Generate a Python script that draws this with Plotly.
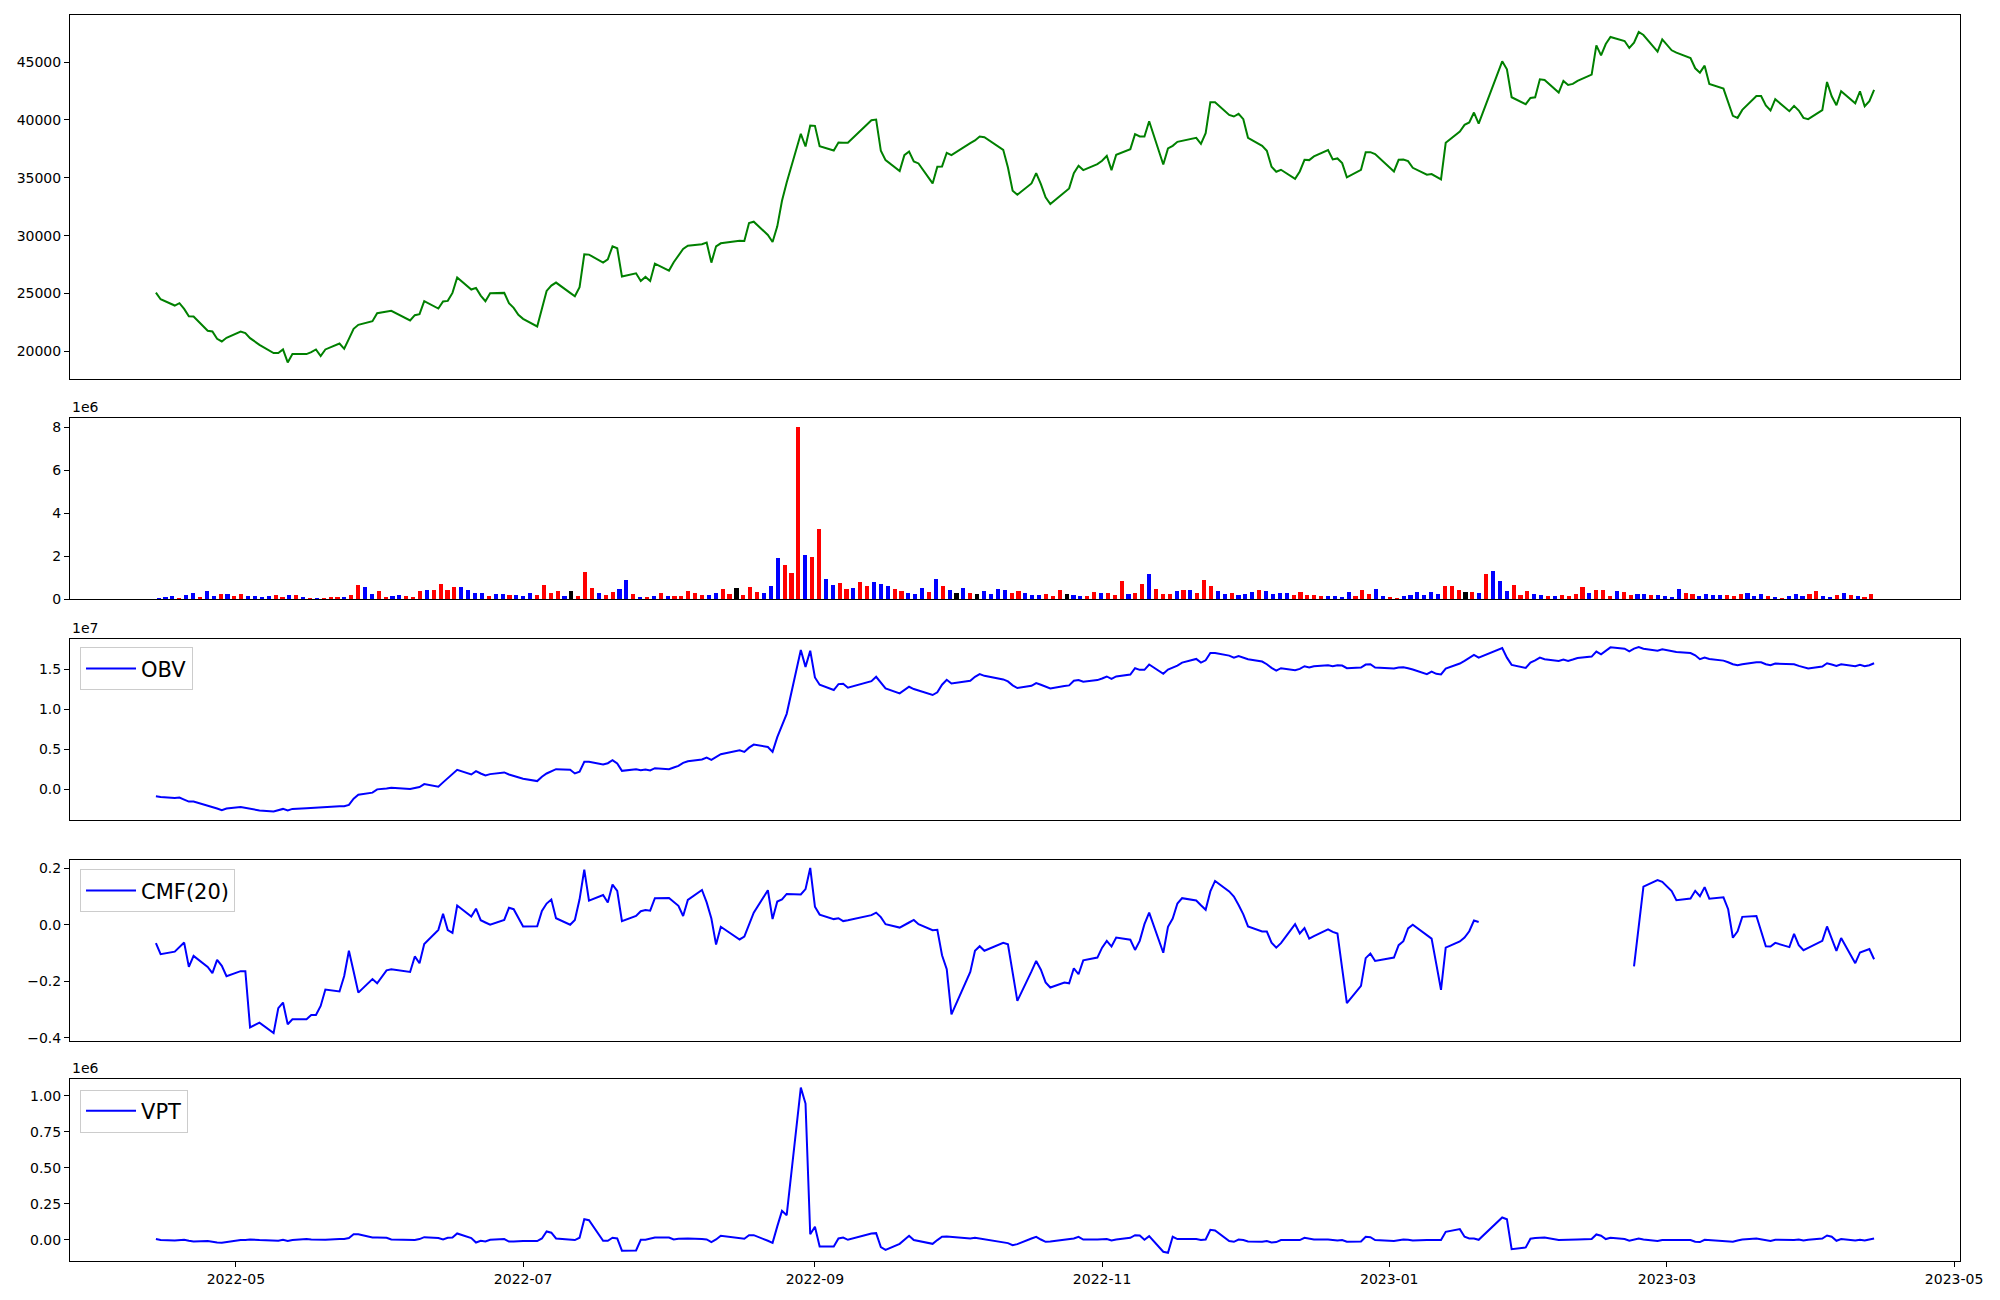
import pandas as pd
import plotly.graph_objects as go

# ---------------- data ----------------
# KRX closed days inside the range (trading calendar = weekdays minus these)
holidays = ["2022-05-05", "2022-06-01", "2022-06-06", "2022-08-15", "2022-09-09",
            "2022-09-12", "2022-10-03", "2022-10-10", "2022-12-30", "2023-01-23",
            "2023-01-24", "2023-03-01"]

close = [
    25079, 24504, 23957, 24158, 23670, 23037, 23008, 21771, 21714, 21080, 20850, 21166,
    21714, 21570, 21139, 20563, 19843, 19843, 20160, 19037, 19757, 19757, 19930, 20160,
    19585, 20160, 20677, 20217, 21080, 21944, 22289, 22605, 23296,
    23440, 23497, 22663, 23123, 23209, 24331, 23698, 24302, 24360, 25050, 26374, 25338,
    25482, 24820, 24331, 25022, 25050, 24158, 23755, 23151,
    22806, 22145, 23670, 25223, 25683, 25942, 25050, 24762, 25539, 28388, 28359, 27669,
    27956, 29078, 28905, 26460, 26747, 26085, 26431, 26085, 27582,
    26978, 27698, 28273, 28848, 29136, 29251, 29395, 27669, 29078, 29338, 29567, 29539,
    31092, 31207, 30056, 29452, 30805, 33020, 34602, 38802, 37709, 39521,
    39493, 37738, 37364, 38054, 38026, 38026, 39982, 40040, 37335, 36530, 35580, 36961,
    37278, 36415, 36242, 34516, 35955, 35983, 37163, 36961,
    37997, 38227, 38572, 38515, 37422, 35897, 33883, 33538, 34516, 35407, 34458, 33308,
    32732, 33740, 34084, 35407, 36041, 35667, 36184,
    36472, 36904, 35667, 36990, 37479, 38774, 38572, 38572, 39896, 36155, 37537, 37767,
    38112, 38198, 38457, 37939, 38860, 41536, 41536, 40442, 40299, 40529,
    40068, 38457, 37767, 37335, 35955, 35523, 35696, 34919, 35552, 36559, 36530, 36847,
    37393, 36588, 36674, 36271, 35034, 35696, 37220, 37220, 37048,
    35552, 36559, 36588, 36444, 35868, 35264, 35321, 35091, 34861, 38026, 39004, 39579,
    39781, 40644, 39694, 45074, 44384, 41967, 41363, 41910,
    41967, 43521, 43463, 42370, 43377, 43032, 43118, 43377, 43924, 46455, 45592, 46570,
    47175, 46829, 46225, 46685, 47606, 47347, 45909, 46973,
    46024, 45822, 45362, 44470, 44096, 44700, 43118, 42715, 41478, 40356, 40183, 40874,
    42079, 42079, 41248, 40816, 41795, 40759, 41219, 40816, 40183, 40068,
    40845, 43290, 42053, 41276, 42485, 41449, 42485, 41190, 41622, 42600,
]

# volume in millions of shares
volume_m = [
    0.05, 0.09, 0.14, 0.05, 0.19, 0.28, 0.09, 0.37, 0.14, 0.23,
    0.23, 0.14, 0.23, 0.14, 0.14, 0.09, 0.14, 0.19, 0.09, 0.19,
    0.19, 0.09, 0.05, 0.05, 0.05, 0.09, 0.09, 0.09, 0.19, 0.65,
    0.56, 0.23, 0.37, 0.09, 0.14, 0.19, 0.14, 0.09, 0.37, 0.42,
    0.42, 0.70, 0.42, 0.56, 0.56, 0.42, 0.28, 0.28, 0.14, 0.23,
    0.23, 0.19, 0.19, 0.14, 0.28, 0.19, 0.65, 0.28, 0.37, 0.14,
    0.37, 0.14, 1.26, 0.51, 0.28, 0.19, 0.33, 0.47, 0.88, 0.23,
    0.09, 0.09, 0.14, 0.28, 0.14, 0.14, 0.14, 0.37, 0.28, 0.19,
    0.19, 0.28, 0.47, 0.23, 0.51, 0.19, 0.56, 0.33, 0.28, 0.60,
    1.91, 1.58, 1.21, 8.01, 2.05, 1.95, 3.26, 0.93, 0.65, 0.74,
    0.47, 0.51, 0.79, 0.60, 0.79, 0.70, 0.60, 0.47, 0.37, 0.28,
    0.23, 0.51, 0.33, 0.93, 0.60, 0.42, 0.28, 0.51, 0.28, 0.23,
    0.37, 0.23, 0.47, 0.42, 0.28, 0.37, 0.28, 0.19, 0.19, 0.23,
    0.14, 0.42, 0.23, 0.19, 0.14, 0.14, 0.33, 0.28, 0.28, 0.19,
    0.84, 0.23, 0.28, 0.70, 1.16, 0.47, 0.23, 0.23, 0.37, 0.42,
    0.42, 0.28, 0.88, 0.60, 0.37, 0.23, 0.28, 0.19, 0.23, 0.33,
    0.42, 0.37, 0.23, 0.28, 0.28, 0.19, 0.33, 0.19, 0.19, 0.14,
    0.14, 0.14, 0.09, 0.33, 0.14, 0.42, 0.23, 0.47, 0.14, 0.09,
    0.05, 0.14, 0.19, 0.33, 0.19, 0.33, 0.23, 0.60, 0.60, 0.42,
    0.33, 0.33, 0.28, 1.16, 1.30, 0.84, 0.37, 0.65, 0.19, 0.37,
    0.23, 0.19, 0.14, 0.14, 0.19, 0.14, 0.23, 0.56, 0.28, 0.42,
    0.42, 0.14, 0.37, 0.33, 0.19, 0.23, 0.23, 0.19, 0.19, 0.14,
    0.09, 0.47, 0.28, 0.23, 0.14, 0.23, 0.19, 0.19, 0.19, 0.14,
    0.23, 0.28, 0.14, 0.23, 0.14, 0.09, 0.05, 0.14, 0.23, 0.14,
    0.23, 0.37, 0.14, 0.09, 0.19, 0.28, 0.19, 0.14, 0.09, 0.23,
]

# bar colour per day: r = up, b = down, k = unchanged
vol_dir = (
    "bbbrbbrbbr" "brrbbbbrrb" "rbrbrrrbrr" "bbrrbbrrrb" "rrrrbbbbrb"
    "brbbbrrrrb" "krrrbrrbbr" "brbrbrrrrr" "bbrrkrrrbb" "brrrbrrbbr"
    "rbrrbbbrrb" "bbrbrbkbrk" "bbbbrrbbbr" "rrkbbrrbrr" "rbrrbrrrbr"
    "brrrbbrbbb" "rbbbbrrrrr" "bbbbrrrbbr" "rbbbbbbrrr" "krbrbbbrrr"
    "bbrbrrrrbr" "rrbrrbbrbb" "bbrrbbbbrr" "rbbbrbrbbb" "rrbbrbrbrr"
)

# On-Balance Volume, in units of 1e7
obv_1e7 = [
    -0.085, -0.093, -0.105, -0.101, -0.126, -0.151, -0.151, -0.200, -0.213, -0.237, -0.258, -0.237,
    -0.217, -0.229, -0.246, -0.262, -0.275, -0.254, -0.242, -0.262, -0.242, -0.233, -0.229, -0.221,
    -0.225, -0.221, -0.208, -0.208, -0.192, -0.114, -0.064, -0.039, 0.002,
    0.014, 0.023, 0.006, 0.019, 0.031, 0.068, 0.035, 0.089, 0.142, 0.192, 0.246, 0.188,
    0.229, 0.200, 0.176, 0.192, 0.213, 0.188, 0.167, 0.147,
    0.134, 0.105, 0.159, 0.200, 0.229, 0.254, 0.246, 0.200, 0.221, 0.345, 0.345, 0.312,
    0.328, 0.365, 0.324, 0.233, 0.254, 0.242, 0.250, 0.237, 0.266,
    0.254, 0.275, 0.295, 0.332, 0.353, 0.374, 0.398, 0.369, 0.407, 0.440, 0.489, 0.469,
    0.522, 0.560, 0.531, 0.469, 0.654, 0.799, 0.944, 1.740, 1.530, 1.732,
    1.398, 1.307, 1.241, 1.315, 1.319, 1.270, 1.352, 1.406, 1.332, 1.261, 1.199, 1.241,
    1.282, 1.253, 1.232, 1.179, 1.212, 1.307, 1.369, 1.323,
    1.356, 1.406, 1.439, 1.418, 1.373, 1.348, 1.299, 1.266, 1.294, 1.328, 1.307, 1.282,
    1.261, 1.290, 1.299, 1.356, 1.365, 1.344, 1.365,
    1.385, 1.410, 1.381, 1.410, 1.435, 1.513, 1.493, 1.493, 1.559, 1.443, 1.497, 1.522,
    1.546, 1.583, 1.629, 1.583, 1.612, 1.703, 1.703, 1.670, 1.645, 1.666,
    1.645, 1.625, 1.596, 1.563, 1.517, 1.484, 1.513, 1.489, 1.505, 1.538, 1.522, 1.538,
    1.550, 1.538, 1.550, 1.546, 1.513, 1.522, 1.559, 1.563, 1.522,
    1.509, 1.522, 1.526, 1.513, 1.497, 1.439, 1.472, 1.443, 1.435, 1.509, 1.571, 1.604,
    1.637, 1.678, 1.645, 1.765, 1.645, 1.555, 1.517, 1.583,
    1.612, 1.645, 1.625, 1.604, 1.621, 1.604, 1.621, 1.641, 1.658, 1.720, 1.687, 1.728,
    1.773, 1.757, 1.724, 1.757, 1.778, 1.757, 1.732, 1.749,
    1.728, 1.716, 1.703, 1.674, 1.625, 1.645, 1.629, 1.608, 1.588, 1.563, 1.550, 1.563,
    1.588, 1.588, 1.563, 1.550, 1.571, 1.563, 1.563, 1.542, 1.522, 1.509,
    1.534, 1.575, 1.559, 1.542, 1.563, 1.538, 1.555, 1.538, 1.550, 1.575,
]

# Chaikin Money Flow (20); None where the indicator is undefined
cmf20 = [
    -0.065, -0.104, -0.095, -0.078, -0.063, -0.149, -0.110, -0.149, -0.171, -0.124, -0.145, -0.182,
    -0.164, -0.164, -0.363, -0.346, -0.383, -0.295, -0.275, -0.352, -0.334, -0.334, -0.319, -0.319,
    -0.287, -0.229, -0.236, -0.181, -0.092, -0.165, -0.240, -0.192, -0.207,
    -0.161, -0.157, -0.167, -0.112, -0.136, -0.068, -0.018, 0.039, -0.019, -0.029, 0.068, 0.029,
    0.057, 0.016, 0.008, 0.000, 0.017, 0.060, 0.055, 0.024,
    -0.006, -0.005, 0.049, 0.075, 0.089, 0.023, 0.000, 0.017, 0.090, 0.195, 0.085, 0.105,
    0.079, 0.142, 0.120, 0.013, 0.031, 0.048, 0.052, 0.050, 0.094,
    0.095, 0.081, 0.067, 0.031, 0.088, 0.123, 0.079, 0.022, -0.070, -0.007, -0.052, -0.042,
    0.002, 0.043, 0.122, 0.020, 0.082, 0.090, 0.109, 0.107, 0.126, 0.201,
    0.064, 0.036, 0.020, 0.023, 0.013, 0.016, 0.034, 0.043, 0.027, 0.002, -0.010, -0.002,
    0.008, 0.017, 0.002, -0.019, -0.018, -0.108, -0.157, -0.317,
    -0.167, -0.092, -0.076, -0.092, -0.064, -0.069, -0.175, -0.269, -0.165, -0.128, -0.159, -0.204,
    -0.222, -0.204, -0.207, -0.154, -0.175, -0.126, -0.116,
    -0.081, -0.057, -0.077, -0.045, -0.053, -0.089, -0.057, 0.002, 0.043, -0.099, -0.007, 0.022,
    0.075, 0.094, 0.086, 0.069, 0.053, 0.118, 0.155, 0.118, 0.100, 0.070,
    0.037, -0.006, -0.024, -0.024, -0.063, -0.081, -0.065, 0.002, -0.031, -0.012, -0.049, -0.040,
    -0.016, -0.025, -0.031, -0.154, -0.277, -0.216, -0.118, -0.102, -0.128,
    -0.116, -0.072, -0.058, -0.013, 0.000, -0.039, -0.049, -0.139, -0.230, -0.081, -0.059, -0.045,
    -0.023, 0.015, 0.010, None, None, None, None, None,
    None, None, None, None, None, None, None, None, None, None, None, None,
    None, None, None, -0.147, -0.006, 0.135, 0.158, 0.152,
    0.119, 0.087, 0.093, 0.120, 0.101, 0.133, 0.092, 0.097, 0.055, -0.046, -0.023, 0.028,
    0.031, -0.022, -0.076, -0.077, -0.064, -0.079, -0.032, -0.072, -0.090, -0.082,
    -0.057, -0.006, -0.051, -0.092, -0.047, -0.136, -0.098, -0.092, -0.086, -0.122,
]

# Volume Price Trend, in units of 1e6
vpt_1e6 = [
    0.006, -0.001, -0.004, -0.001, 0.001, -0.006, -0.011, -0.008, -0.015, -0.018, -0.020, -0.015,
    -0.001, -0.001, 0.003, -0.001, -0.008, -0.006, 0.001, -0.008, -0.001, 0.006, 0.003, 0.001,
    0.001, 0.001, 0.006, 0.006, 0.013, 0.040, 0.040, 0.017, 0.017,
    0.015, 0.003, -0.004, -0.001, 0.006, 0.019, 0.013, 0.003, 0.015, 0.017, 0.045, 0.013,
    -0.018, -0.006, -0.011, 0.001, 0.006, -0.011, -0.011, -0.008,
    -0.008, -0.008, 0.010, 0.059, 0.050, 0.010, 0.001, -0.001, 0.015, 0.144, 0.137, -0.006,
    -0.006, 0.015, 0.010, -0.075, -0.073, 0.001, 0.001, 0.010, 0.017,
    0.017, 0.003, 0.008, 0.010, 0.010, 0.006, 0.003, -0.015, 0.003, 0.029, 0.008, 0.008,
    0.033, 0.033, -0.006, -0.020, 0.094, 0.202, 0.172, 1.058, 0.947, 0.040,
    0.091, -0.045, -0.045, 0.010, 0.017, 0.001, 0.045, 0.047, -0.050, -0.069, -0.027, 0.001,
    0.029, -0.001, -0.008, -0.027, -0.001, 0.022, 0.024, 0.022,
    0.010, 0.015, 0.010, 0.006, -0.013, -0.022, -0.036, -0.029, 0.010, 0.022, 0.003, -0.013,
    -0.011, 0.001, 0.006, 0.010, 0.022, 0.003, 0.003,
    0.006, 0.006, -0.004, 0.003, 0.015, 0.033, 0.031, 0.001, 0.026, -0.082, -0.089, 0.022,
    0.006, 0.006, 0.006, -0.001, 0.003, 0.070, 0.066, -0.008, -0.013, 0.003,
    -0.001, -0.011, -0.013, -0.008, -0.018, -0.015, -0.001, -0.001, -0.001, 0.015, 0.008, 0.003,
    0.003, -0.001, -0.004, -0.001, -0.013, -0.011, 0.022, 0.019, -0.001,
    -0.008, -0.001, 0.003, 0.001, -0.004, -0.001, 0.001, -0.001, -0.001, 0.056, 0.075, 0.022,
    0.010, 0.010, 0.001, 0.156, 0.144, -0.064, -0.052, 0.008,
    0.013, 0.015, 0.017, -0.001, 0.001, 0.003, 0.003, 0.003, 0.006, 0.038, 0.029, 0.006,
    0.015, 0.006, -0.006, 0.003, 0.010, 0.003, -0.008, -0.001,
    -0.001, -0.001, -0.001, -0.013, -0.015, 0.001, -0.001, -0.006, -0.011, -0.013, -0.004, 0.003,
    0.010, 0.003, -0.001, -0.008, 0.001, -0.001, -0.001, 0.003, -0.004, 0.001,
    0.010, 0.031, 0.022, -0.006, 0.006, -0.004, 0.001, -0.004, 0.001, 0.010,
]

date_ticks = ["2022-05-01", "2022-07-01", "2022-09-01", "2022-11-01",
              "2023-01-01", "2023-03-01", "2023-05-01"]
date_tick_labels = ["2022-05", "2022-07", "2022-09", "2022-11", "2023-01", "2023-03", "2023-05"]

# ---------------- build ----------------
dates = pd.bdate_range("2022-04-14", "2023-04-14")
dates = dates[~dates.isin(pd.to_datetime(holidays))]
x_dates = dates.strftime("%Y-%m-%d").tolist()
n = len(x_dates)
for arr in (close, volume_m, vol_dir, obv_1e7, cmf20, vpt_1e6):
    assert len(arr) == n, (len(arr), n)

bar_colors = [{"r": "red", "b": "blue", "k": "black"}[c] for c in vol_dir]


def padded(values, frac=0.05):
    vals = [v for v in values if v is not None]
    lo, hi = min(vals), max(vals)
    pad = (hi - lo) * frac
    return [lo - pad, hi + pad]


FONT = dict(family="DejaVu Sans", size=14, color="black")
# 5 % padding either side of 2022-04-14 .. 2023-04-14
DATE_RANGE = ["2022-03-26 18:00", "2023-05-02 06:00"]
doms = [[0.7079, 0.9996], [0.5309, 0.6763], [0.3541, 0.4994], [0.1763, 0.3221], [0.0, 0.1458]]

axis_style = dict(showline=True, linecolor="black", linewidth=1, mirror=True,
                  showgrid=False, zeroline=False, ticks="outside", ticklen=5,
                  tickwidth=1, tickcolor="black", tickfont=FONT)

fig = go.Figure()

fig.add_trace(go.Scatter(x=x_dates, y=close, mode="lines", line=dict(color="green", width=2),
                         showlegend=False, xaxis="x", yaxis="y"))
fig.add_trace(go.Bar(x=list(range(n)), y=volume_m, marker=dict(color=bar_colors, line_width=0),
                     width=0.6, showlegend=False, xaxis="x2", yaxis="y2"))
fig.add_trace(go.Scatter(x=x_dates, y=obv_1e7, mode="lines", name="OBV",
                         line=dict(color="blue", width=2), xaxis="x3", yaxis="y3",
                         legend="legend"))
fig.add_trace(go.Scatter(x=x_dates, y=cmf20, mode="lines", name="CMF(20)",
                         line=dict(color="blue", width=2), xaxis="x4", yaxis="y4",
                         legend="legend2", connectgaps=False))
fig.add_trace(go.Scatter(x=x_dates, y=vpt_1e6, mode="lines", name="VPT",
                         line=dict(color="blue", width=2), xaxis="x5", yaxis="y5",
                         legend="legend3"))

hidden_x = dict(axis_style, ticks="", showticklabels=False)

legend_style = dict(x=0.0053, xanchor="left", yanchor="top", bordercolor="#cccccc",
                    borderwidth=1, bgcolor="rgba(255,255,255,0.8)",
                    font=dict(family="DejaVu Sans", size=21, color="black"),
                    itemwidth=50)

fig.update_layout(
    width=2000, height=1300,
    margin=dict(l=70, r=40, t=15, b=39),
    paper_bgcolor="white", plot_bgcolor="white",
    font=FONT,
    bargap=0,
    xaxis=dict(hidden_x, domain=[0, 1], anchor="y", type="date", range=DATE_RANGE),
    yaxis=dict(axis_style, domain=doms[0], anchor="x", range=padded(close),
               tickvals=[20000, 25000, 30000, 35000, 40000, 45000], tickformat="d"),
    xaxis2=dict(hidden_x, domain=[0, 1], anchor="y2", range=[-12.89, 261.89]),
    yaxis2=dict(axis_style, domain=doms[1], anchor="x2", range=[0, max(volume_m) * 1.05],
                tickvals=[0, 2, 4, 6, 8]),
    xaxis3=dict(hidden_x, domain=[0, 1], anchor="y3", type="date", range=DATE_RANGE),
    yaxis3=dict(axis_style, domain=doms[2], anchor="x3", range=padded(obv_1e7),
                tickvals=[0, 0.5, 1.0, 1.5], tickformat=".1f"),
    xaxis4=dict(hidden_x, domain=[0, 1], anchor="y4", type="date", range=DATE_RANGE),
    yaxis4=dict(axis_style, domain=doms[3], anchor="x4", range=padded(cmf20),
                tickvals=[-0.4, -0.2, 0.0, 0.2], tickformat=".1f"),
    xaxis5=dict(axis_style, domain=[0, 1], anchor="y5", type="date", range=DATE_RANGE,
                tickvals=date_ticks, ticktext=date_tick_labels),
    yaxis5=dict(axis_style, domain=doms[4], anchor="x5", range=padded(vpt_1e6),
                tickvals=[0, 0.25, 0.5, 0.75, 1.0], tickformat=".2f"),
    legend=dict(legend_style, y=0.4924),
    legend2=dict(legend_style, y=0.3144),
    legend3=dict(legend_style, y=0.1375),
)

# scientific offset labels above the scaled panels
for dom, txt in ((doms[1], "1e6"), (doms[2], "1e7"), (doms[4], "1e6")):
    fig.add_annotation(x=0, y=dom[1], xref="paper", yref="paper", text=txt,
                       showarrow=False, xanchor="left", yanchor="bottom", yshift=1,
                       font=FONT)

# the page's default body margin would shift the whole figure by 8 px
fig.write_html("out.html", config={"displayModeBar": False},
               post_script="document.body.style.margin = '0px';")
